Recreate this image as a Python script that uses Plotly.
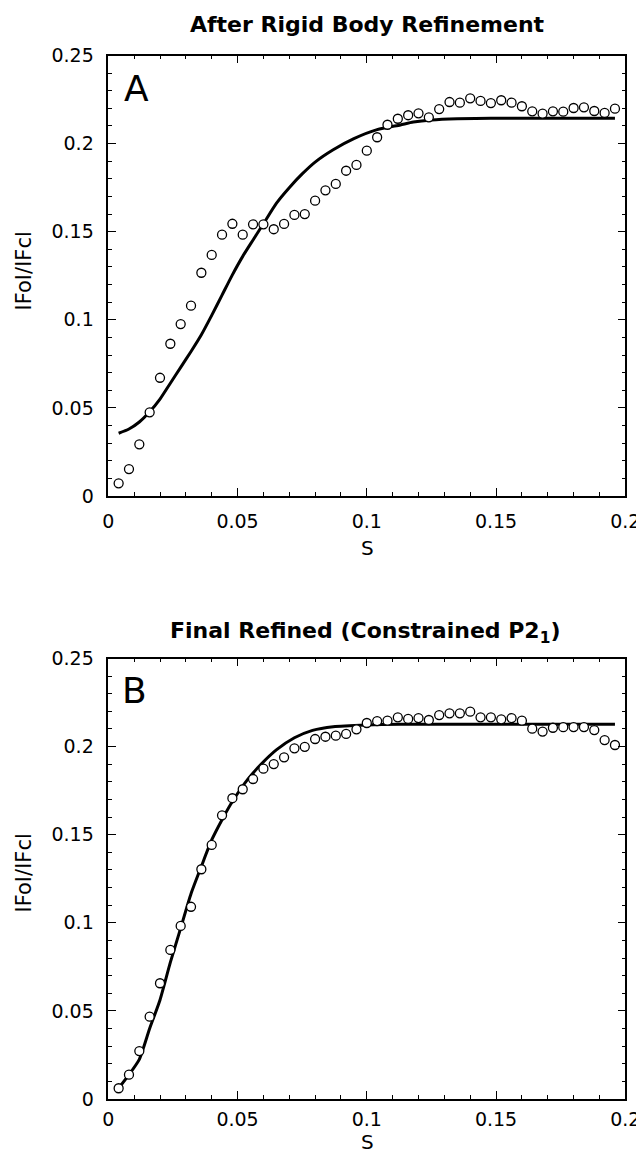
import plotly.graph_objects as go

# ---------------- data ----------------
s_points = [0.004, 0.008, 0.012, 0.016, 0.020, 0.024, 0.028, 0.032, 0.036, 0.040,
            0.044, 0.048, 0.052, 0.056, 0.060, 0.064, 0.068, 0.072, 0.076, 0.080,
            0.084, 0.088, 0.092, 0.096, 0.100, 0.104, 0.108, 0.112, 0.116, 0.120,
            0.124, 0.128, 0.132, 0.136, 0.140, 0.144, 0.148, 0.152, 0.156, 0.160,
            0.164, 0.168, 0.172, 0.176, 0.180, 0.184, 0.188, 0.192, 0.196]

obs_A = [0.0072, 0.0153, 0.0293, 0.0475, 0.0671, 0.0864, 0.0976, 0.1080, 0.1267, 0.1368,
         0.1483, 0.1545, 0.1483, 0.1542, 0.1542, 0.1514, 0.1544, 0.1595, 0.1600, 0.1676,
         0.1735, 0.1771, 0.1846, 0.1879, 0.1960, 0.2036, 0.2107, 0.2141, 0.2161, 0.2172,
         0.2149, 0.2196, 0.2236, 0.2232, 0.2257, 0.2242, 0.2230, 0.2246, 0.2232, 0.2212,
         0.2183, 0.2170, 0.2183, 0.2181, 0.2202, 0.2206, 0.2185, 0.2174, 0.2198]

obs_B = [0.0061, 0.0138, 0.0272, 0.0467, 0.0657, 0.0846, 0.0982, 0.1091, 0.1304, 0.1442,
         0.1610, 0.1707, 0.1758, 0.1816, 0.1875, 0.1901, 0.1939, 0.1990, 0.1999, 0.2043,
         0.2056, 0.2062, 0.2072, 0.2098, 0.2134, 0.2145, 0.2147, 0.2166, 0.2157, 0.2162,
         0.2151, 0.2179, 0.2189, 0.2189, 0.2198, 0.2166, 0.2166, 0.2155, 0.2162, 0.2147,
         0.2102, 0.2085, 0.2107, 0.2110, 0.2111, 0.2111, 0.2094, 0.2037, 0.2009]

fit_A_s = [0.004, 0.008, 0.012, 0.016, 0.020, 0.024, 0.028, 0.032, 0.036, 0.040,
           0.044, 0.048, 0.052, 0.056, 0.060, 0.065, 0.070, 0.075, 0.080, 0.087,
           0.095, 0.104, 0.113, 0.118, 0.125, 0.135, 0.148, 0.196]
fit_A = [0.0356, 0.0380, 0.0420, 0.0478, 0.0550, 0.0640, 0.0730, 0.0820, 0.0915, 0.1025,
         0.1140, 0.1255, 0.1360, 0.1453, 0.1545, 0.1661, 0.1750, 0.1828, 0.1895, 0.1965,
         0.2028, 0.2079, 0.2106, 0.2122, 0.2134, 0.2141, 0.2144, 0.2144]

fit_B_s = [0.004, 0.008, 0.012, 0.016, 0.020, 0.024, 0.028, 0.032, 0.036, 0.040,
           0.044, 0.048, 0.054, 0.059, 0.065, 0.072, 0.079, 0.087, 0.100, 0.113, 0.196]
fit_B = [0.0061, 0.0138, 0.0225, 0.0400, 0.0562, 0.0775, 0.0970, 0.1165, 0.1320, 0.1470,
         0.1585, 0.1688, 0.1815, 0.1898, 0.1981, 0.2050, 0.2092, 0.2113, 0.2123, 0.2127, 0.2127]

x_tickvals = [0, 0.05, 0.1, 0.15, 0.2]
x_ticktext = ["0", "0.05", "0.1", "0.15", "0.2"]
y_tickvals = [0, 0.05, 0.1, 0.15, 0.2, 0.25]
y_ticktext = ["0", "0.05", "0.1", "0.15", "0.2", "0.25"]

title_A = "After Rigid Body Refinement"
title_B = "Final Refined (Constrained P2<sub>1</sub>)"
y_title = "IFoI/IFcl"
x_title = "S"

# ---------------- figure ----------------
W, H = 644, 1152
OFF = 8  # default page body margin of the written html
FONT = "DejaVu Sans"

fig = go.Figure()

marker = dict(symbol="circle", size=9, color="white", line=dict(color="black", width=1.3))

fig.add_trace(go.Scatter(x=fit_A_s, y=fit_A, mode="lines", line=dict(color="black", width=3, shape="spline", smoothing=0.6),
                         xaxis="x", yaxis="y", showlegend=False, hoverinfo="skip"))
fig.add_trace(go.Scatter(x=s_points, y=obs_A, mode="markers", marker=marker,
                         xaxis="x", yaxis="y", showlegend=False))
fig.add_trace(go.Scatter(x=fit_B_s, y=fit_B, mode="lines", line=dict(color="black", width=3, shape="spline", smoothing=0.6),
                         xaxis="x2", yaxis="y2", showlegend=False, hoverinfo="skip"))
fig.add_trace(go.Scatter(x=s_points, y=obs_B, mode="markers", marker=marker,
                         xaxis="x2", yaxis="y2", showlegend=False))


def fx(px):
    return (px - OFF) / W


def fy(py):
    return 1 - (py - OFF) / H


x_dom = [fx(108.3), fx(625.3)]
yA_dom = [fy(496), fy(55.5)]
yB_dom = [fy(1099), fy(658.5)]


def xax(domain, anchor, standoff):
    return dict(domain=domain, anchor=anchor, range=[0, 0.2],
                tickvals=x_tickvals, ticktext=x_ticktext,
                ticks="inside", ticklen=8, tickwidth=1.3, tickcolor="black",
                minor=dict(ticks="inside", ticklen=4, tickwidth=1, tickcolor="black", dtick=0.01, tick0=0, showgrid=False),
                showline=True, linecolor="black", linewidth=1.5, mirror="ticks",
                showgrid=False, zeroline=False, ticklabelstandoff=standoff, automargin=False,
                tickfont=dict(family=FONT, size=19, color="black"))


def yax(domain, anchor):
    return dict(domain=domain, anchor=anchor, range=[0, 0.25],
                tickvals=y_tickvals, ticktext=y_ticktext,
                ticks="inside", ticklen=8, tickwidth=1.3, tickcolor="black",
                minor=dict(ticks="inside", ticklen=4, tickwidth=1, tickcolor="black", dtick=0.01, tick0=0, showgrid=False),
                showline=True, linecolor="black", linewidth=1.5, mirror="ticks",
                showgrid=False, zeroline=False, ticklabelstandoff=9, automargin=False,
                tickfont=dict(family=FONT, size=19, color="black"))


fig.update_layout(
    width=W, height=H,
    margin=dict(l=0, r=0, t=0, b=0),
    paper_bgcolor="white", plot_bgcolor="white",
    xaxis=xax(x_dom, "y", 7),
    yaxis=yax(yA_dom, "x"),
    xaxis2=xax(x_dom, "y2", 2),
    yaxis2=yax(yB_dom, "x2"),
)

ann = []


def add_text(text, px, py, size, bold=False, angle=0):
    ann.append(dict(text=f"<b>{text}</b>" if bold else text,
                    x=fx(px), y=fy(py), xref="paper", yref="paper",
                    xanchor="center", yanchor="middle", showarrow=False, textangle=angle,
                    font=dict(family=FONT, size=size, color="black")))


add_text(title_A, 367, 25, 22, bold=True)
add_text(title_B, 365, 632, 22, bold=True)
add_text("A", 136.5, 88.5, 36)
add_text("B", 134.5, 690, 36)
add_text(y_title, 23.5, 271, 21, angle=-90)
add_text(y_title, 23.5, 873, 21, angle=-90)
add_text(x_title, 367, 548, 20)
add_text(x_title, 367, 1142, 20)

fig.update_layout(annotations=ann)

fig.write_html("out.html")
